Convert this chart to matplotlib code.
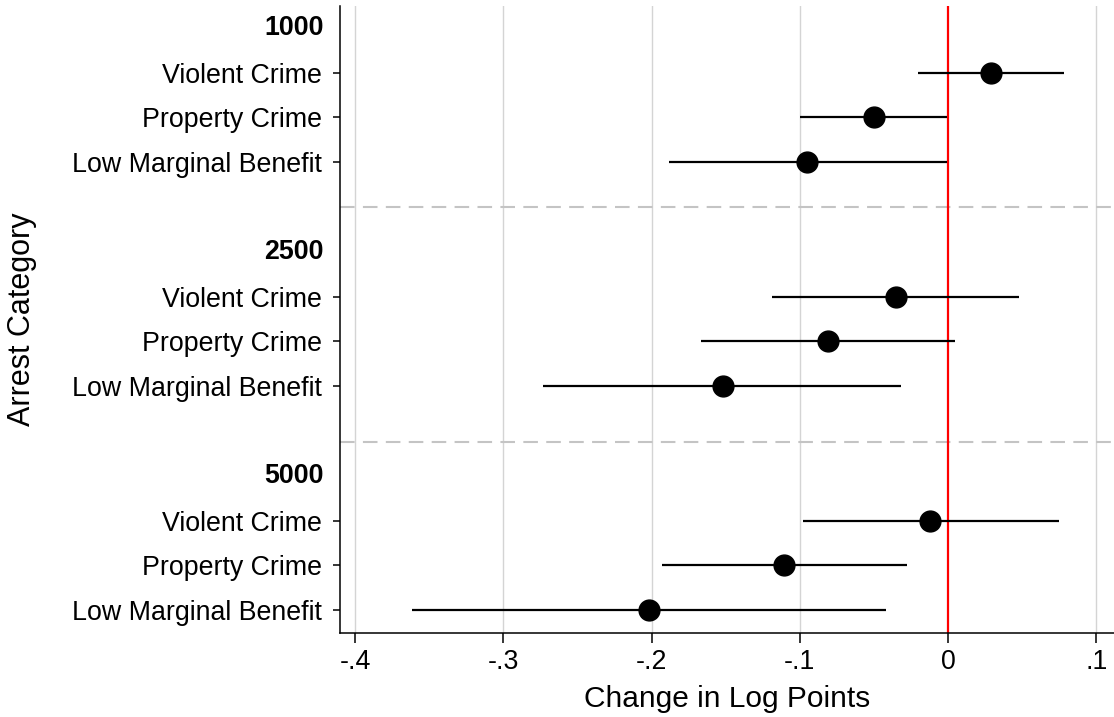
import numpy as np
import matplotlib
matplotlib.use("Agg")
import matplotlib.pyplot as plt
import matplotlib.transforms as mtransforms

plt.rcParams['font.family'] = ['Liberation Sans', 'DejaVu Sans']

# bail thresholds and arrest categories
groups = ['1000', '2500', '5000']
categories = ['Violent Crime', 'Property Crime', 'Low Marginal Benefit']

# point estimates and 95% CI bounds, one row per group
coef = [[0.029, -0.050, -0.095],
        [-0.035, -0.081, -0.152],
        [-0.012, -0.111, -0.202]]
ci_lo = [[-0.020, -0.100, -0.188],
         [-0.119, -0.167, -0.273],
         [-0.098, -0.193, -0.362]]
ci_hi = [[0.078, -0.001, -0.001],
         [0.048, 0.005, -0.032],
         [0.075, -0.028, -0.042]]

xticks = [-0.4, -0.3, -0.2, -0.1, 0, 0.1]
xticklabels = ['-.4', '-.3', '-.2', '-.1', '0', '.1']

fig = plt.figure(figsize=(11.14, 7.17), dpi=100)
ax = fig.add_axes([340 / 1114, 1 - 632.5 / 717, 1 - 340 / 1114, (632.5 - 5.5) / 717])

fs = 19.3
header_rows = []
rows, labels = [], []
for g in range(len(groups)):
    base = g * 5
    header_rows.append(base)
    for k in range(len(categories)):
        y = base + 1 + k
        rows.append(y)
        labels.append(categories[k])
        ax.plot([ci_lo[g][k], ci_hi[g][k]], [y, y], color='black', lw=1.6,
                solid_capstyle='butt', zorder=3)
        ax.plot(coef[g][k], y, 'o', color='black', ms=15, zorder=4)

# separators between groups
for ysep in [4.0, 9.25]:
    ax.axhline(ysep, color='#c4c4c4', lw=1.5, ls=(0, (7, 4)), zorder=1)

ax.axvline(0, color='red', lw=1.6, zorder=2)
for xt in xticks:
    if xt != 0:
        ax.axvline(xt, color='#d4d4d4', lw=1.0, zorder=0)

ax.set_xlim(-0.4103, 0.112)
ax.set_ylim(13.5, -0.5)
ax.set_xticks(xticks)
ax.set_xticklabels(xticklabels, fontsize=fs)
ax.set_yticks(rows)
ax.set_yticklabels(labels, fontsize=fs)
ax.tick_params(axis='y', length=5, width=1.1, pad=8)
ax.tick_params(axis='x', length=7, width=1.1, pad=5)

# bold group headers, aligned with the tick labels
trans = mtransforms.blended_transform_factory(ax.transAxes, ax.transData)
for g, yh in zip(groups, header_rows):
    ax.annotate(g, xy=(0, yh), xycoords=trans, xytext=(-11.6, 0),
                textcoords='offset points', ha='right', va='center',
                fontsize=fs, fontweight='bold')

for side in ['top', 'right']:
    ax.spines[side].set_visible(False)
for side in ['left', 'bottom']:
    ax.spines[side].set_linewidth(1.1)

ax.set_xlabel('Change in Log Points', fontsize=21.5, labelpad=7)
ax.set_ylabel('Arrest Category', fontsize=22, va='center')
ax.yaxis.set_label_coords((22 - 340) / 774, 0.5)

fig.savefig('out.png', dpi=100)
